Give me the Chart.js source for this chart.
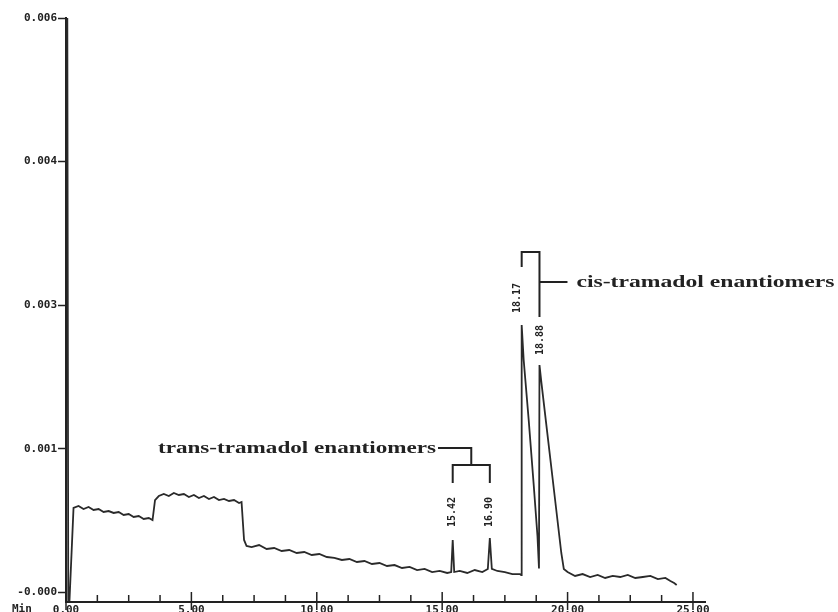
<!DOCTYPE html>
<html><head><meta charset="utf-8">
<script src="https://cdn.jsdelivr.net/npm/chart.js@4.4.1/dist/chart.umd.min.js"></script>
<style>html,body{margin:0;padding:0;background:#fff;}canvas{display:block;}</style>
</head><body>
<canvas id="c" width="838" height="612"></canvas>
<script>
// Migration time (min)
const timeMin = [
 0.00,0.05,0.09,0.14,0.30,0.50,0.70,0.90,1.10,1.30,1.50,1.70,1.90,2.10,2.30,2.50,2.70,2.90,3.10,3.30,3.45,
 3.55,3.70,3.90,4.10,4.30,4.50,4.70,4.90,5.10,5.30,5.50,5.70,5.90,6.10,6.30,6.50,6.70,6.90,7.00,
 7.10,7.20,7.40,7.70,8.00,8.30,8.60,8.90,9.20,9.50,9.80,10.10,10.40,10.70,11.00,11.30,11.60,11.90,
 12.20,12.50,12.80,13.10,13.40,13.70,14.00,14.30,14.60,14.90,15.20,15.36,15.42,15.48,15.70,16.00,
 16.30,16.60,16.82,16.90,16.98,17.20,17.50,17.80,18.10,18.15,18.17,18.25,18.45,18.65,18.80,18.86,
 18.88,18.95,19.15,19.35,19.55,19.75,19.85,20.00,20.30,20.60,20.90,21.20,21.50,21.80,22.10,22.40,
 22.70,23.00,23.30,23.60,23.90,24.10,24.25,24.35
];
// Absorbance (mAU)
const absorbanceMilliAU = [
 6.20,6.20,-0.28,-0.28,0.682,0.703,0.671,0.692,0.661,0.671,0.640,0.650,0.630,0.640,0.609,0.619,0.588,0.598,0.567,0.577,0.556,
 0.765,0.807,0.828,0.807,0.839,0.818,0.828,0.797,0.818,0.786,0.807,0.776,0.797,0.765,0.776,0.755,0.765,0.734,0.745,
 0.348,0.285,0.274,0.295,0.254,0.264,0.233,0.243,0.212,0.222,0.191,0.201,0.170,0.160,0.139,0.149,0.118,0.128,
 0.097,0.107,0.076,0.086,0.055,0.066,0.034,0.045,0.013,0.024,0.003,0.013,0.348,0.013,0.024,0.003,
 0.034,0.013,0.045,0.368,0.045,0.024,0.013,-0.008,-0.008,-0.018,2.593,2.228,1.601,0.922,0.389,0.050,
 2.175,2.008,1.559,1.110,0.661,0.212,0.045,0.013,-0.028,-0.008,-0.039,-0.018,-0.049,-0.028,-0.039,-0.018,
 -0.049,-0.039,-0.028,-0.060,-0.049,-0.081,-0.102,-0.122
];
const xMajorTicks = [0,5,10,15,20,25];
const xTickLabels = ['0.00','5.00','10.00','15.00','20.00','25.00'];
const xMinorStep = 1.25;
const yTickValues = [-0.0002,0.0013,0.0028,0.0043,0.0058];
const yTickLabels = ['-0.000','0.001','0.003','0.004','0.006'];
const peakTimes = [15.42,16.90,18.17,18.88];
const peakLabels = ['15.42','16.90','18.17','18.88'];
const groupLabels = ['trans-tramadol enantiomers','cis-tramadol enantiomers'];
const xAxisUnit = 'Min';

const INK = '#222';
const monoFont = 'bold 11px "DejaVu Sans Mono"';

function fitText(c, text, x, yMid, width, font){
  c.save(); c.font = font; const w = c.measureText(text).width;
  c.translate(x, yMid); c.scale(width / w, 1);
  c.textAlign = 'left'; c.textBaseline = 'middle'; c.fillStyle = INK;
  c.fillText(text, 0, 0); c.restore();
}
function vText(c, text, x, yMid){
  c.save(); c.translate(x, yMid); c.rotate(-Math.PI/2);
  c.font = 'bold 10px "DejaVu Sans Mono"'; c.fillStyle = INK;
  c.textAlign = 'center'; c.textBaseline = 'middle'; c.fillText(text, 0, 0); c.restore();
}
function line(c, pts){ c.beginPath(); c.moveTo(pts[0][0], pts[0][1]); for (let i=1;i<pts.length;i++) c.lineTo(pts[i][0], pts[i][1]); c.stroke(); }

const annot = {
  id: 'annot',
  afterDraw(chart){
    const c = chart.ctx, xs = chart.scales.x, ys = chart.scales.y;
    const bottom = chart.chartArea.bottom;
    c.save();
    c.strokeStyle = INK; c.lineWidth = 1.5;
    // x ticks: minor inward, major crossing
    for (let v = 0; v <= 25 + 1e-9; v += xMinorStep) {
      const px = xs.getPixelForValue(v);
      const major = xMajorTicks.some(m => Math.abs(m - v) < 1e-6);
      line(c, major ? [[px, bottom - 10], [px, bottom + 8]] : [[px, bottom - 7], [px, bottom]]);
    }
    // unit label
    c.font = monoFont; c.fillStyle = INK; c.textAlign = 'left'; c.textBaseline = 'top';
    c.fillText(xAxisUnit, 12, bottom + 2);

    const p = peakTimes.map(t => xs.getPixelForValue(t));
    // trans bracket
    const tMid = (p[0] + p[1]) / 2;
    c.lineWidth = 2;
    line(c, [[p[0], 483], [p[0], 465], [p[1], 465], [p[1], 483]]);
    line(c, [[438, 448], [tMid, 448], [tMid, 465]]);
    fitText(c, groupLabels[0], 158, 449, 278, 'bold 16px "Liberation Serif"');
    vText(c, peakLabels[0], p[0], 512);
    vText(c, peakLabels[1], p[1], 512);
    // cis bracket
    line(c, [[p[2], 267], [p[2], 252], [p[3], 252], [p[3], 317]]);
    line(c, [[p[3], 282], [p[3] + 28, 282]]);
    fitText(c, groupLabels[1], p[3] + 37, 283, 258, 'bold 16px "Liberation Serif"');
    vText(c, peakLabels[2], p[2] - 4, 298);
    vText(c, peakLabels[3], p[3] + 1, 340);
    c.restore();
  }
};

const points = timeMin.map((t, i) => ({x: t, y: absorbanceMilliAU[i] / 1000}));

new Chart(document.getElementById('c'), {
  type: 'line',
  data: { datasets: [{ data: points, borderColor: '#2a2a2a', borderWidth: 1.8, pointRadius: 0, tension: 0, fill: false }] },
  options: {
    responsive: false, animation: false,
    layout: { padding: { top: 18, right: 133, left: 0, bottom: 0 } },
    plugins: { legend: { display: false }, tooltip: { enabled: false } },
    scales: {
      x: {
        type: 'linear', min: 0, max: 25.48,
        afterBuildTicks: s => { const a = []; for (let v = 0; v <= 25 + 1e-9; v += xMinorStep) a.push({ value: +v.toFixed(2) }); s.ticks = a; },
        afterFit: s => { s.height = 10; },
        ticks: { autoSkip: false, maxRotation: 0, padding: 2, color: INK,
          font: { family: 'DejaVu Sans Mono', size: 11, weight: 'bold' },
          callback: v => { const i = xMajorTicks.findIndex(m => Math.abs(m - v) < 1e-6); return i >= 0 ? xTickLabels[i] : ''; } },
        grid: { display: false, drawTicks: false },
        border: { display: true, color: INK, width: 2 }
      },
      y: {
        min: -0.0003, max: 0.0058,
        afterBuildTicks: s => { s.ticks = yTickValues.map(v => ({ value: v })); },
        afterFit: s => { s.width = 66; },
        ticks: { padding: 1, color: INK, font: { family: 'DejaVu Sans Mono', size: 11, weight: 'bold' },
          callback: (v, i) => yTickLabels[i] },
        grid: { drawOnChartArea: false, drawTicks: true, tickLength: 8, tickColor: INK, tickWidth: 1.5 },
        border: { display: true, color: INK, width: 2 }
      }
    }
  },
  plugins: [annot]
});
</script>
</body></html>
